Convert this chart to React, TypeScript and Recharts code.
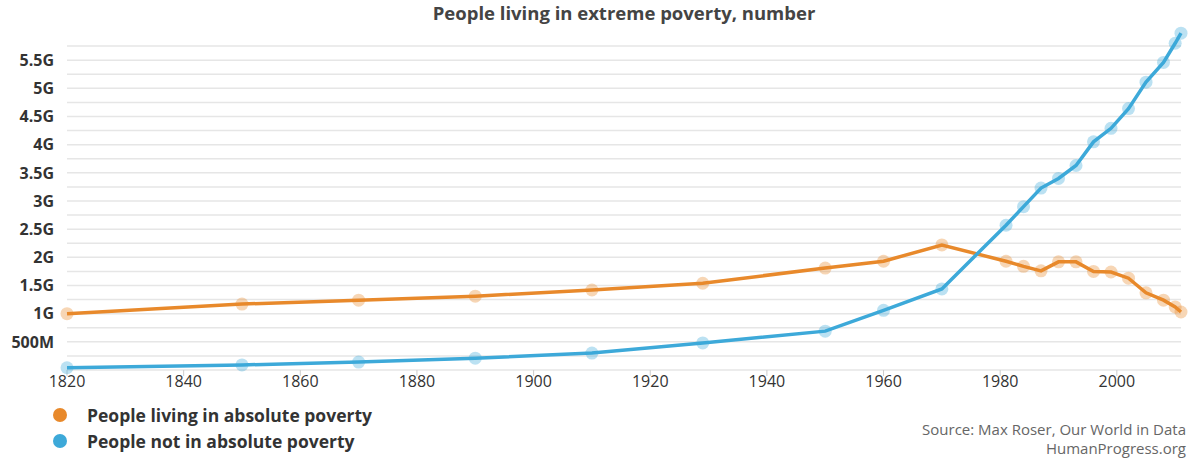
import { LineChart, Line, XAxis, YAxis, CartesianGrid } from "recharts"

const years = [1820, 1850, 1870, 1890, 1910, 1929, 1950, 1960, 1970, 1981, 1984, 1987, 1990, 1993, 1996, 1999, 2002, 2005, 2008, 2010, 2011]
// billions
const inPoverty = [1.0, 1.17, 1.24, 1.31, 1.42, 1.54, 1.81, 1.93, 2.22, 1.93, 1.84, 1.76, 1.92, 1.92, 1.75, 1.74, 1.63, 1.37, 1.24, 1.12, 1.03]
const notInPoverty = [0.04, 0.09, 0.14, 0.21, 0.3, 0.48, 0.69, 1.06, 1.44, 2.57, 2.9, 3.23, 3.4, 3.63, 4.05, 4.29, 4.64, 5.11, 5.46, 5.8, 5.98]

const xTicks = [1820, 1840, 1860, 1880, 1900, 1920, 1940, 1960, 1980, 2000]
const yTicks = [0, 0.25, 0.5, 0.75, 1, 1.25, 1.5, 1.75, 2, 2.25, 2.5, 2.75, 3, 3.25, 3.5, 3.75, 4, 4.25, 4.5, 4.75, 5, 5.25, 5.5, 5.75]
const Y_MAX = 6

const ORANGE = "#e8892b"
const BLUE = "#3da9d9"

const data = years.map((year, i) => ({
  year,
  poor: inPoverty[i] * 1e9,
  notPoor: notInPoverty[i] * 1e9,
}))

function formatY(value: number) {
  const g = value / 1e9
  if (g === 0 || Math.round(g * 100) % 50 !== 0) return ""
  if (g < 1) return `${Math.round(g * 1000)}M`
  return `${g}G`
}

const legendItems = [
  { label: "People living in absolute poverty", color: ORANGE },
  { label: "People not in absolute poverty", color: BLUE },
]

export default function App() {
  return (
    <div
      style={{
        position: "absolute",
        left: 0,
        top: 0,
        width: 1190,
        height: 459,
        overflow: "hidden",
        background: "#fff",
        fontFamily: "'Open Sans', sans-serif",
      }}
    >
      <div
        style={{
          position: "absolute",
          left: 374,
          width: 500,
          top: 0,
          textAlign: "center",
          fontSize: 18.5,
          fontWeight: 700,
          color: "#444",
        }}
      >
        People living in extreme poverty, number
      </div>

      <LineChart width={1190} height={459} data={data} margin={{ top: 32, right: 9, left: 13, bottom: 59 }}>
        <CartesianGrid
          vertical={false}
          stroke="#e6e6e6"
          strokeWidth={1.5}
          horizontalCoordinatesGenerator={({ offset }: any) =>
            yTicks.map((t) => offset.top + offset.height * (1 - t / Y_MAX))
          }
        />
        <XAxis
          dataKey="year"
          type="number"
          domain={[1820, 2011]}
          ticks={xTicks}
          axisLine={false}
          tickLine={{ stroke: "#ccc" }}
          tickSize={6}
          tickMargin={0}
          height={30}
          tick={{ fill: "#333", fontSize: 16, fontFamily: "'Open Sans', sans-serif" }}
        />
        <YAxis
          type="number"
          domain={[0, Y_MAX * 1e9]}
          ticks={yTicks.map((t) => t * 1e9)}
          tickFormatter={formatY}
          axisLine={false}
          tickLine={false}
          width={54}
          tickMargin={7}
          interval={0}
          tick={{ fill: "#333", fontSize: 16, fontWeight: 700, fontFamily: "'Open Sans', sans-serif" }}
        />
        <Line
          type="linear"
          dataKey="poor"
          stroke={ORANGE}
          strokeWidth={3.5}
          dot={{ r: 6.5, fill: ORANGE, fillOpacity: 0.35, stroke: "none" }}
          isAnimationActive={false}
        />
        <Line
          type="linear"
          dataKey="notPoor"
          stroke={BLUE}
          strokeWidth={3.5}
          dot={{ r: 6.5, fill: BLUE, fillOpacity: 0.35, stroke: "none" }}
          isAnimationActive={false}
        />
      </LineChart>

      {legendItems.map((item, i) => (
        <div
          key={item.label}
          style={{
            position: "absolute",
            left: 53,
            top: 403 + i * 26,
            display: "flex",
            alignItems: "center",
            gap: 20,
          }}
        >
          <div style={{ width: 14, height: 14, borderRadius: "50%", background: item.color }} />
          <span style={{ fontSize: 17.5, fontWeight: 700, color: "#333" }}>{item.label}</span>
        </div>
      ))}

      <div
        style={{
          position: "absolute",
          right: 4,
          top: 420,
          fontSize: 15,
          lineHeight: "19px",
          color: "#666",
          whiteSpace: "nowrap",
          textAlign: "right",
        }}
      >
        Source: Max Roser, Our World in Data
        <br />
        HumanProgress.org
      </div>
    </div>
  )
}
